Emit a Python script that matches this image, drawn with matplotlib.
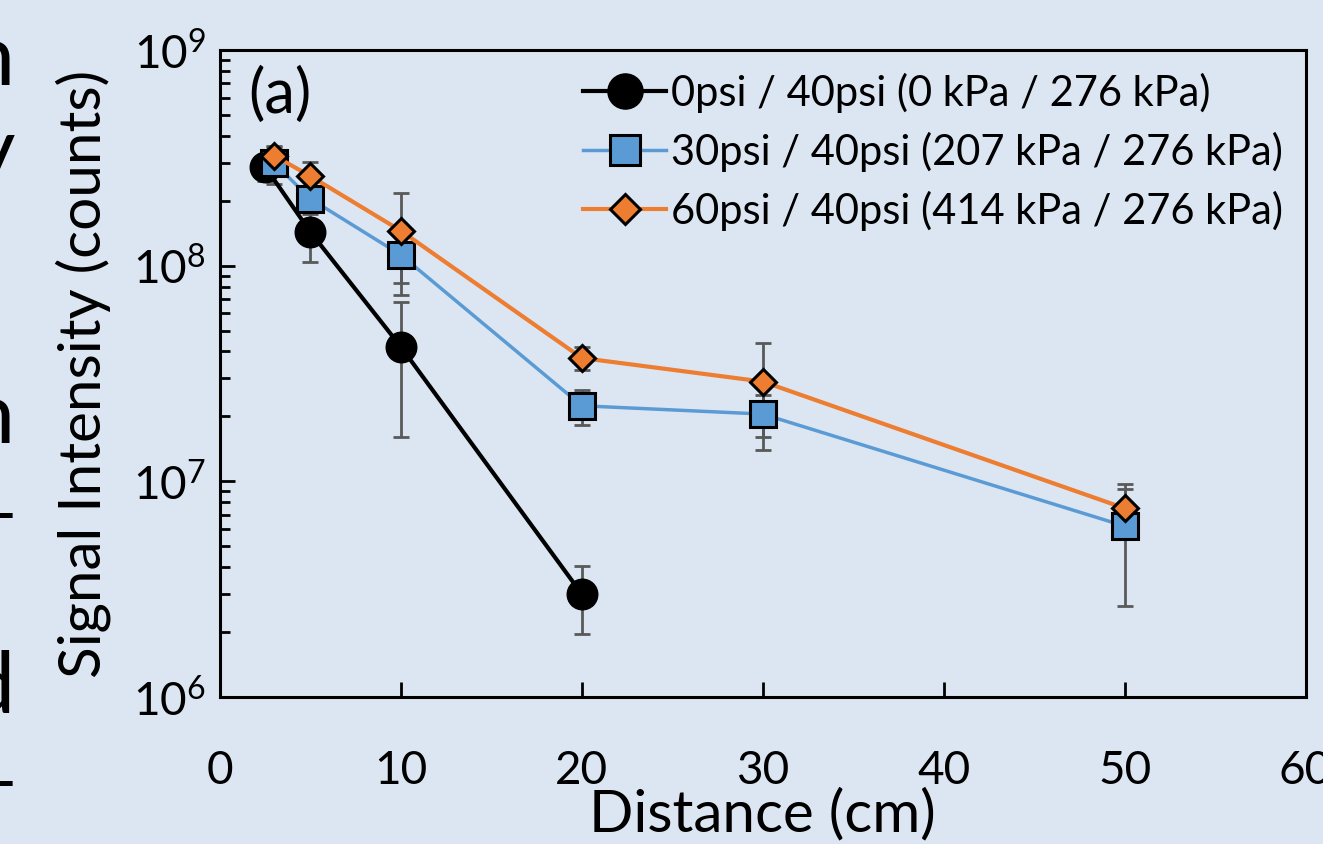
import matplotlib
matplotlib.use("Agg")
import matplotlib.pyplot as plt
from matplotlib.ticker import LogLocator, NullFormatter

# data
x_0psi = [2.5, 5, 10, 20]
y_0psi = [2.87e8, 1.43e8, 4.2e7, 3.0e6]
err_0psi = [4.0e7, 3.9e7, 2.6e7, 1.05e6]

x_30psi = [3, 5, 10, 20, 30, 50]
y_30psi = [2.99e8, 2.04e8, 1.12e8, 2.24e7, 2.05e7, 6.2e6]
err_30psi = [6.0e7, 3.0e7, 2.9e7, 4.2e6, 4.5e6, 3.56e6]

x_60psi = [3, 5, 10, 20, 30, 50]
y_60psi = [3.23e8, 2.6e8, 1.45e8, 3.73e7, 2.9e7, 7.5e6]
err_60psi = [3.0e7, 4.3e7, 7.2e7, 4.5e6, 1.5e7, 1.7e6]

labels = ["0psi / 40psi (0 kPa / 276 kPa)",
          "30psi / 40psi (207 kPa / 276 kPa)",
          "60psi / 40psi (414 kPa / 276 kPa)"]

x_ticks = [0, 10, 20, 30, 40, 50, 60]

bg = "#dce6f2"
plt.rcParams["font.family"] = ["Lato", "DejaVu Sans"]

fig = plt.figure(figsize=(13.23, 8.44), dpi=100, facecolor=bg)
ax = fig.add_axes([0.1663, 0.1742, 0.8205, 0.7666])
ax.set_facecolor(bg)

err_kw = dict(fmt="none", ecolor="#595959", elinewidth=2, capsize=6, capthick=2, zorder=2)
ax.errorbar(x_0psi, y_0psi, yerr=err_0psi, **err_kw)
ax.errorbar(x_30psi, y_30psi, yerr=err_30psi, **err_kw)
ax.errorbar(x_60psi, y_60psi, yerr=err_60psi, **err_kw)

ax.plot(x_0psi, y_0psi, color="black", lw=3, marker="o", ms=22,
        mfc="black", mec="black", label=labels[0], zorder=3)
ax.plot(x_30psi, y_30psi, color="#5b9bd5", lw=2.5, marker="s", ms=19,
        mfc="#5b9bd5", mec="black", mew=2.2, label=labels[1], zorder=4)
ax.plot(x_60psi, y_60psi, color="#ed7d31", lw=3, marker="D", ms=13,
        mfc="#ed7d31", mec="black", mew=2.2, label=labels[2], zorder=5)

ax.set_yscale("log")
ax.set_ylim(1e6, 1e9)
ax.set_xlim(0, 60)
ax.set_xticks(x_ticks)
ax.yaxis.set_major_locator(LogLocator(base=10, numticks=10))
ax.yaxis.set_minor_locator(LogLocator(base=10, subs=range(2, 10), numticks=20))
ax.yaxis.set_minor_formatter(NullFormatter())

for s in ax.spines.values():
    s.set_linewidth(2.2)
ax.tick_params(axis="x", direction="in", length=11, width=2, pad=38,
               labelsize=33, top=False)
ax.tick_params(axis="y", which="major", direction="in", length=11, width=2,
               pad=10, labelsize=33, right=False)
ax.tick_params(axis="y", which="minor", direction="in", length=7, width=2,
               right=False)

ax.set_xlabel("Distance (cm)", fontsize=42, labelpad=-3)
ax.set_ylabel("Signal Intensity (counts)", fontsize=42, labelpad=16)

ax.text(0.026, 0.975, "(a)", transform=ax.transAxes, fontsize=44,
        ha="left", va="top")

leg = ax.legend(loc="upper right", frameon=False, fontsize=30,
                handlelength=2.0, handletextpad=0.1, labelspacing=0.45,
                borderaxespad=0.15, markerscale=1.15)

# clipped words from the neighbouring slide text on the left edge
for ypos, s in [(0.899, "n"), (0.789, "y"), (0.475, "n"), (0.156, "d"),
                (0.400, "_"), (0.083, "_")]:
    fig.text(0.011, ypos, s, fontsize=62, ha="right", va="baseline")

fig.savefig("out.png", dpi=100, facecolor=bg)
